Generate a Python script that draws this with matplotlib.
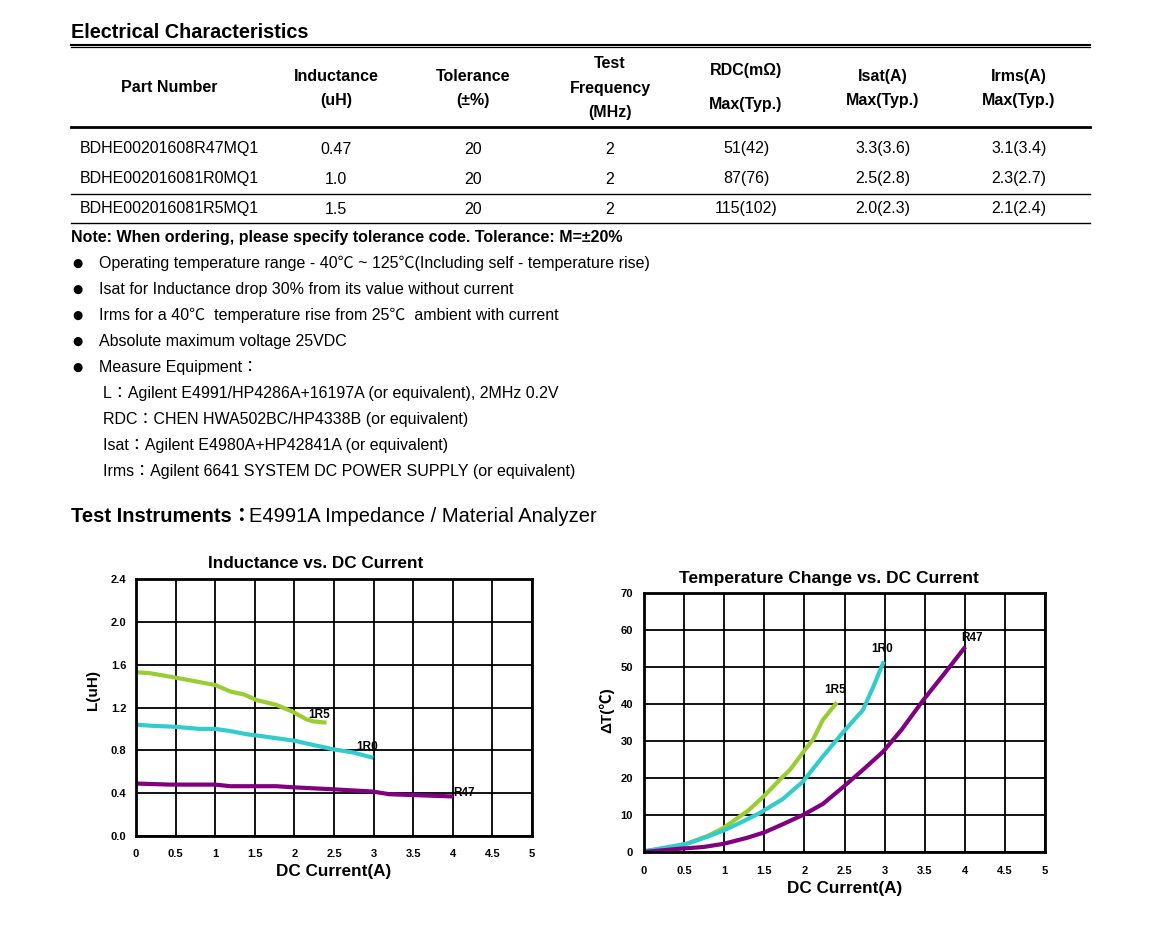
import matplotlib
matplotlib.use("Agg")
import matplotlib.pyplot as plt
from matplotlib.lines import Line2D

plt.rcParams['font.family'] = ['Liberation Sans', 'Noto Sans CJK TC', 'DejaVu Sans']

# ---- table data ----
headers = [["Part Number"], ["Inductance", "(uH)"], ["Tolerance", "(±%)"],
           ["Test", "Frequency", "(MHz)"], ["RDC(mΩ)", "Max(Typ.)"],
           ["Isat(A)", "Max(Typ.)"], ["Irms(A)", "Max(Typ.)"]]
part_numbers = ["BDHE00201608R47MQ1", "BDHE002016081R0MQ1", "BDHE002016081R5MQ1"]
inductance = ["0.47", "1.0", "1.5"]
tolerance = ["20", "20", "20"]
test_freq = ["2", "2", "2"]
rdc = ["51(42)", "87(76)", "115(102)"]
isat = ["3.3(3.6)", "2.5(2.8)", "2.0(2.3)"]
irms = ["3.1(3.4)", "2.3(2.7)", "2.1(2.4)"]

note = "Note: When ordering, please specify tolerance code. Tolerance: M=±20%"
bullets = ["Operating temperature range - 40℃ ~ 125℃(Including self - temperature rise)",
           "Isat for Inductance drop 30% from its value without current",
           "Irms for a 40℃  temperature rise from 25℃  ambient with current",
           "Absolute maximum voltage 25VDC",
           "Measure Equipment："]
equipment = ["L：Agilent E4991/HP4286A+16197A (or equivalent), 2MHz 0.2V",
             "RDC：CHEN HWA502BC/HP4338B (or equivalent)",
             "Isat：Agilent E4980A+HP42841A (or equivalent)",
             "Irms：Agilent 6641 SYSTEM DC POWER SUPPLY (or equivalent)"]

# ---- inductance vs DC current ----
l_1r5_x = [0, 0.18, 0.49, 1.0, 1.19, 1.37, 1.52, 1.77, 1.98, 2.15, 2.24, 2.38]
l_1r5_y = [1.53, 1.52, 1.48, 1.41, 1.35, 1.32, 1.27, 1.225, 1.16, 1.09, 1.07, 1.06]
l_1r0_x = [0, 0.18, 0.49, 0.81, 1.0, 1.19, 1.4, 1.56, 2.0, 2.24, 2.49, 2.74, 2.97]
l_1r0_y = [1.04, 1.03, 1.02, 1.0, 1.0, 0.98, 0.95, 0.935, 0.89, 0.85, 0.81, 0.78, 0.735]
l_r47_x = [0, 0.43, 1.0, 1.19, 1.77, 1.98, 2.49, 2.99, 3.2, 3.58, 3.98]
l_r47_y = [0.49, 0.48, 0.48, 0.465, 0.465, 0.455, 0.436, 0.415, 0.39, 0.38, 0.37]

# ---- temperature rise vs DC current ----
t_1r5_x = [0, 0.36, 0.53, 0.8, 0.99, 1.3, 1.5, 1.71, 1.82, 2.0, 2.11, 2.23, 2.39]
t_1r5_y = [0.2, 1.3, 2.2, 4.4, 6.5, 11.2, 15.2, 19.9, 22.2, 27.4, 30.5, 35.7, 40.0]
t_1r0_x = [0, 0.53, 0.8, 0.99, 1.19, 1.44, 1.73, 1.98, 2.23, 2.48, 2.73, 2.86, 2.98]
t_1r0_y = [0.2, 2.2, 4.2, 5.8, 7.8, 10.5, 14.3, 19.0, 25.8, 32.3, 38.4, 44.7, 51.0]
t_r47_x = [0, 0.4, 0.74, 0.99, 1.28, 1.5, 1.73, 2.0, 2.23, 2.48, 2.75, 2.98, 3.21, 3.48, 3.73, 3.99]
t_r47_y = [0, 0.8, 1.35, 2.2, 3.8, 5.3, 7.5, 10.2, 13.0, 17.5, 22.6, 27.1, 33.0, 41.0, 47.8, 55.0]

green = "#9ACD32"
cyan = "#33CCCC"
purple = "#800080"

W, H = 1157, 930
fig = plt.figure(figsize=(W / 100, H / 100), dpi=100)


def P(x, y):
    return x / W, 1 - y / H


def txt(x, y, s, **kw):
    kw.setdefault("va", "center")
    kw.setdefault("ha", "left")
    fig.text(*P(x, y), s, **kw)


def hline(x0, x1, y, lw):
    fig.add_artist(Line2D([x0 / W, x1 / W], [1 - y / H, 1 - y / H], color="black", lw=lw,
                          transform=fig.transFigure))


fs = 11.5

# title and table
txt(71, 33, "Electrical Characteristics", fontsize=14.3, fontweight="bold")
hline(71, 1090, 45, 1.5)
hline(71, 1090, 47.5, 0.9)

col_x = [169, 336, 473, 610, 746, 883, 1019]
head_y = {1: [88], 2: [76, 101], 3: [64, 88, 113]}
for cx, h in zip(col_x, headers):
    ys = head_y[len(h)]
    if h[0].startswith("RDC"):
        ys = [70, 104]
    for yy, s in zip(ys, h):
        txt(cx, yy, s, ha="center", fontsize=fs, fontweight="bold")
hline(71, 1090, 127.5, 2)

row_y = [149, 179, 209]
for i, yy in enumerate(row_y):
    txt(80, yy, part_numbers[i], fontsize=fs)
    for cx, col in zip(col_x[1:], [inductance, tolerance, test_freq, rdc, isat, irms]):
        txt(cx, yy, col[i], ha="center", fontsize=fs)
hline(71, 1090, 194, 1)
hline(71, 1090, 223, 1)

txt(71, 237, note, fontsize=fs, fontweight="bold")
for i, s in enumerate(bullets):
    yy = 263 + 26 * i
    txt(77, yy, "●", ha="center", fontsize=8.5, family="DejaVu Sans")
    txt(99, yy, s, fontsize=fs)
for i, s in enumerate(equipment):
    txt(103, 393 + 26 * i, s, fontsize=fs)

txt(71, 516, "Test Instruments：", fontsize=14.5, fontweight="bold")
txt(249, 516, "E4991A Impedance / Material Analyzer", fontsize=14.5)

# charts
ax1 = fig.add_axes([136 / W, 1 - 836 / H, 396 / W, 257 / H])
ax2 = fig.add_axes([644 / W, 1 - 852 / H, 401 / W, 259 / H])

xt = [0, 0.5, 1, 1.5, 2, 2.5, 3, 3.5, 4, 4.5, 5]
xt_labels = ["0", "0.5", "1", "1.5", "2", "2.5", "3", "3.5", "4", "4.5", "5"]

for ax in (ax1, ax2):
    ax.set_xlim(0, 5)
    ax.set_xticks(xt)
    ax.set_xticklabels(xt_labels)
    ax.grid(True, color="black", lw=1.3)
    ax.set_axisbelow(True)
    for sp in ax.spines.values():
        sp.set_linewidth(2)
    ax.tick_params(length=0, labelsize=8)
    for lab in ax.get_xticklabels() + ax.get_yticklabels():
        lab.set_fontweight("bold")

ax1.set_ylim(0, 2.4)
ax1.set_yticks([0, 0.4, 0.8, 1.2, 1.6, 2.0, 2.4])
ax1.set_yticklabels(["0.0", "0.4", "0.8", "1.2", "1.6", "2.0", "2.4"], fontweight="bold")
ax1.tick_params(axis="x", pad=9)
ax1.tick_params(axis="y", pad=7)
ax1.plot(l_1r5_x, l_1r5_y, color=green, lw=3)
ax1.plot(l_1r0_x, l_1r0_y, color=cyan, lw=3)
ax1.plot(l_r47_x, l_r47_y, color=purple, lw=3)
ax1.text(2.17, 1.13, "1R5", fontsize=8.5, fontweight="bold", va="center")
ax1.text(2.78, 0.83, "1R0", fontsize=8.5, fontweight="bold", va="center")
ax1.text(4.0, 0.405, "R47", fontsize=8.5, fontweight="bold", va="center")
ax1.set_xlabel("DC Current(A)", fontsize=12.3, fontweight="bold")
ax1.xaxis.set_label_coords(0.5, -35 / 257)
ax1.xaxis.label.set_va("center")
ax1.set_ylabel("L(uH)", fontsize=11, fontweight="bold")
ax1.yaxis.set_label_coords(-43 / 396, 146 / 257)
ax1.yaxis.label.set_va("center")
txt(316, 563, "Inductance vs. DC Current", ha="center", fontsize=12.3, fontweight="bold")

ax2.set_ylim(0, 70)
ax2.set_yticks([0, 10, 20, 30, 40, 50, 60, 70])
ax2.set_yticklabels(["0", "10", "20", "30", "40", "50", "60", "70"], fontweight="bold")
ax2.tick_params(axis="x", pad=10)
ax2.tick_params(axis="y", pad=8)
ax2.plot(t_1r5_x, t_1r5_y, color=green, lw=3)
ax2.plot(t_1r0_x, t_1r0_y, color=cyan, lw=3)
ax2.plot(t_r47_x, t_r47_y, color=purple, lw=3)
ax2.text(2.25, 43.8, "1R5", fontsize=8.5, fontweight="bold", va="center")
ax2.text(2.83, 55, "1R0", fontsize=8.5, fontweight="bold", va="center")
ax2.text(3.95, 57.9, "R47", fontsize=8.5, fontweight="bold", va="center")
ax2.set_xlabel("DC Current(A)", fontsize=12.3, fontweight="bold")
ax2.xaxis.set_label_coords(0.5, -36 / 259)
ax2.xaxis.label.set_va("center")
ax2.set_ylabel("ΔT(℃)", fontsize=11, fontweight="bold")
ax2.yaxis.set_label_coords(-37 / 401, 142 / 259)
ax2.yaxis.label.set_va("center")
txt(829, 579, "Temperature Change vs. DC Current", ha="center", fontsize=12.5, fontweight="bold")

fig.savefig("out.png", dpi=100)
